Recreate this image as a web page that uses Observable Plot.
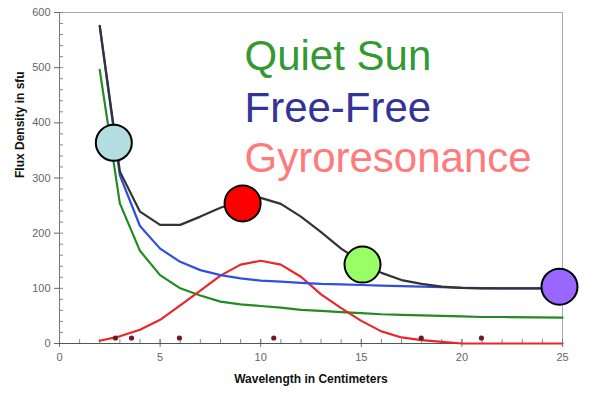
<!DOCTYPE html>
<html>
<head>
<meta charset="utf-8">
<script src="https://cdn.jsdelivr.net/npm/d3@7"></script>
<script src="https://cdn.jsdelivr.net/npm/@observablehq/plot@0.6"></script>
<style>
  html, body { margin: 0; padding: 0; background: #fff; }
  #chart { width: 595px; height: 399px; }
</style>
</head>
<body>
<div id="chart"></div>
<script>
// ---- data ----
const wavelength = [2,3,4,5,6,7,8,9,10,11,12,13,14,15,16,17,18,19,20,21,22,25];
const total      = [576,312,239,215,215,230,246,258,264,253,230,202,172,148,128,115,108,103,101,100,100,100];
const freeFree   = [575,305,213,172,148,133,124,118,114,112,110,108,107,106,105,104,103,102,101,100.5,100,100];
const quietSun   = [496,254,168,124,100,87,76,71,68,65,61,59,57,55,53,52,51,50,49,48,48,47];
const gyro       = [5,13,25,43,69,96,123,143,150,143,121,89,64,41,22,11,6,3,0,0,0,0];

const markerX = [2.7, 9.1, 15.06, 24.85];
const markerY = [364, 254, 143, 103];
const markerFill = ["#b3dde0", "#ff0000", "#99ff66", "#9966ff"];

const smallDotX = [2.78, 3.58, 5.96, 10.65, 17.98, 20.97];
const smallDotY = [10, 10, 10, 10, 10, 10];

const legendLabels = ["Quiet Sun", "Free-Free", "Gyroresonance"];
const legendColors = ["#339933", "#333399", "#ff7b7b"];

const xMajor = [0,5,10,15,20,25];
const xMinor = d3.range(0, 26, 1);
const yMajor = [0,100,200,300,400,500,600];
const yMinor = d3.range(0, 601, 20);

const xTitle = "Wavelength in Centimeters";
const yTitle = "Flux Density in sfu";

// ---- tables ----
const series = (vals) => wavelength.map((w, i) => ({x: w, y: vals[i]}));
const markers = markerX.map((x, i) => ({x, y: markerY[i], fill: markerFill[i]}));
const smallDots = smallDotX.map((x, i) => ({x, y: smallDotY[i]}));

const font = "'Liberation Sans', Arial, Helvetica, sans-serif";
const lw = 2.2;

const legendBaselines = [57, 109, 159];

const chart = Plot.plot({
  width: 595,
  height: 399,
  marginLeft: 59,
  marginRight: 33,
  marginTop: 12,
  marginBottom: 56,
  style: {fontFamily: font, background: "#fff"},
  x: {domain: [0, 25], axis: null},
  y: {domain: [0, 600], axis: null},
  marks: [
    Plot.frame({stroke: "#aaa"}),
    // y axis
    Plot.axisY({ticks: yMinor, tickSize: 4, dx: 4, tickFormat: () => "", label: null, stroke: "#888"}),
    Plot.axisY({ticks: yMajor, tickSize: 5, tickPadding: 4, label: null, fontSize: 11, color: "#666"}),
    // x axis
    Plot.axisX({ticks: xMinor, tickSize: 4, dy: -4, tickFormat: () => "", label: null, stroke: "#888"}),
    Plot.axisX({ticks: xMajor, tickSize: 8, dy: -4, tickFormat: () => "", label: null, stroke: "#777"}),
    Plot.axisX({ticks: xMajor, tickSize: 0, tickPadding: 10, label: null, fontSize: 11, color: "#666"}),
    Plot.ruleX([0], {stroke: "#777"}),
    Plot.ruleY([0], {stroke: "#555"}),
    // curves
    Plot.line(series(quietSun), {x: "x", y: "y", stroke: "#228b22", strokeWidth: lw}),
    Plot.line(series(gyro), {x: "x", y: "y", stroke: "#e8262b", strokeWidth: lw}),
    Plot.line(series(freeFree), {x: "x", y: "y", stroke: "#2f4fe0", strokeWidth: lw}),
    Plot.line(series(total), {x: "x", y: "y", stroke: "#333", strokeWidth: lw}),
    // small dots
    Plot.dot(smallDots, {x: "x", y: "y", r: 2.6, fill: "#6e1a1f", stroke: "none"}),
    // big markers
    Plot.dot(markers, {x: "x", y: "y", r: 18, fill: "fill", stroke: "#000", strokeWidth: 2}),
    // legend text
    ...legendLabels.map((t, i) => Plot.text([t], {
      text: (d) => d, frameAnchor: "top-left", dx: 185, dy: legendBaselines[i],
      lineAnchor: "bottom", textAnchor: "start", fontSize: 42, fill: legendColors[i]
    })),
    // axis titles
    Plot.text([yTitle], {text: (d) => d, frameAnchor: "left", dx: -39, rotate: -90,
      fontSize: 12, fontWeight: "bold", fill: "#111"}),
    Plot.text([xTitle], {text: (d) => d, frameAnchor: "bottom", dy: 39, lineAnchor: "bottom",
      fontSize: 12, fontWeight: "bold", fill: "#111"})
  ]
});
document.getElementById("chart").appendChild(chart);
</script>
</body>
</html>
